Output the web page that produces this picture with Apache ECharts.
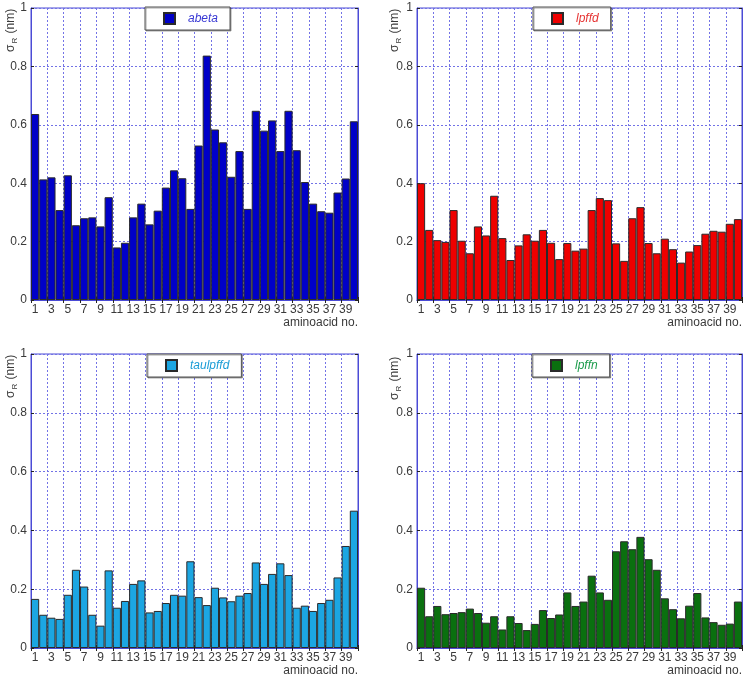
<!DOCTYPE html>
<html>
<head>
<meta charset="utf-8">
<script src="https://cdn.jsdelivr.net/npm/echarts@6/dist/echarts.min.js"></script>
<style>
html,body{margin:0;padding:0;background:#fff;}
#chart{width:745px;height:678px;}
</style>
</head>
<body>
<div id="chart"></div>
<script>
const aminoacids = ['1','2','3','4','5','6','7','8','9','10','11','12','13','14','15','16','17','18','19','20',
  '21','22','23','24','25','26','27','28','29','30','31','32','33','34','35','36','37','38','39','40'];

const abeta = [0.637,0.413,0.420,0.308,0.427,0.256,0.280,0.283,0.252,0.352,
  0.180,0.196,0.283,0.330,0.259,0.306,0.385,0.444,0.417,0.312,
  0.529,0.837,0.584,0.540,0.422,0.510,0.312,0.648,0.580,0.615,
  0.510,0.648,0.513,0.404,0.330,0.304,0.299,0.368,0.416,0.612];

const lpffd = [0.400,0.240,0.205,0.199,0.308,0.203,0.160,0.252,0.221,0.357,
  0.212,0.137,0.187,0.225,0.203,0.240,0.196,0.140,0.195,0.169,
  0.176,0.308,0.349,0.342,0.194,0.134,0.280,0.318,0.195,0.160,
  0.210,0.174,0.128,0.166,0.188,0.227,0.237,0.234,0.261,0.277];

const taulpffd = [0.167,0.113,0.103,0.099,0.181,0.266,0.209,0.113,0.076,0.264,
  0.137,0.160,0.218,0.230,0.121,0.126,0.153,0.181,0.178,0.295,
  0.173,0.146,0.205,0.172,0.159,0.178,0.187,0.291,0.218,0.252,
  0.288,0.248,0.137,0.144,0.126,0.153,0.164,0.240,0.347,0.467];

const lpffn = [0.205,0.108,0.143,0.115,0.119,0.122,0.134,0.119,0.086,0.108,
  0.063,0.108,0.085,0.061,0.082,0.129,0.102,0.114,0.189,0.143,
  0.158,0.246,0.189,0.164,0.329,0.363,0.336,0.378,0.302,0.266,
  0.169,0.132,0.101,0.144,0.187,0.104,0.088,0.079,0.083,0.158];

const FONT = 'Liberation Sans, Arial, sans-serif';
const AXIS_BLUE = '#4b4bd6';
const GRID_BLUE = '#7373e6';

const panels = [
  {name:'abeta', data:abeta, color:'#0000c8', text:'#3838d4',
   grid:{left:31, top:8, width:327, height:292}, legend:{left:145, top:7}, yname:{x:11, y:52}},
  {name:'lpffd', data:lpffd, color:'#ee0000', text:'#e63434',
   grid:{left:417, top:8, width:325, height:292}, legend:{left:533, top:7}, yname:{x:395, y:52}},
  {name:'taulpffd', data:taulpffd, color:'#1ca6e2', text:'#1a9cd6',
   grid:{left:31, top:354, width:327, height:294}, legend:{left:147, top:354}, yname:{x:11, y:398}},
  {name:'lpffn', data:lpffn, color:'#0a700f', text:'#1c9c4c',
   grid:{left:417, top:354, width:325, height:294}, legend:{left:532, top:354}, yname:{x:395, y:400}}
];

const grid = [], xAxis = [], yAxis = [], series = [], legend = [], graphic = [];

panels.forEach((p, i) => {
  grid.push(Object.assign({show:true, borderColor:AXIS_BLUE, borderWidth:1, backgroundColor:'#fff'}, p.grid));
  // bottom x axis
  xAxis.push({
    type:'category', gridIndex:i, data:aminoacids, boundaryGap:true, position:'bottom',
    axisLine:{lineStyle:{color:AXIS_BLUE}},
    axisTick:{show:true, inside:true, length:3, interval:1, lineStyle:{color:'#222'}},
    axisLabel:{interval:1, margin:4, fontSize:12, color:'#3a3a3a', fontFamily:FONT},
    splitLine:{show:true, interval:1, lineStyle:{color:GRID_BLUE, type:[2,2], width:1}},
    name:'aminoacid no.', nameLocation:'end', nameGap:0,
    nameTextStyle:{align:'right', verticalAlign:'top', padding:[17,0,0,0], fontSize:12, color:'#3a3a3a', fontFamily:FONT}
  });
  // top x axis (ticks only)
  xAxis.push({
    type:'category', gridIndex:i, data:aminoacids, boundaryGap:true, position:'top',
    axisLine:{lineStyle:{color:AXIS_BLUE}},
    axisTick:{show:true, inside:true, length:3, interval:1, lineStyle:{color:'#222'}},
    axisLabel:{show:false}, splitLine:{show:false}
  });
  yAxis.push({
    type:'value', gridIndex:i, min:0, max:1, interval:0.2, position:'left',
    axisLine:{show:true, lineStyle:{color:AXIS_BLUE}},
    axisTick:{show:true, inside:true, length:3, lineStyle:{color:'#222'}},
    axisLabel:{margin:4, fontSize:12, color:'#3a3a3a', fontFamily:FONT},
    splitLine:{show:true, lineStyle:{color:GRID_BLUE, type:[2,2], width:1}}
  });
  yAxis.push({
    type:'value', gridIndex:i, min:0, max:1, interval:0.2, position:'right',
    axisLine:{show:true, lineStyle:{color:AXIS_BLUE}},
    axisTick:{show:true, inside:true, length:3, lineStyle:{color:'#222'}},
    axisLabel:{show:false}, splitLine:{show:false}
  });
  series.push({
    type:'bar', name:p.name, data:p.data, xAxisIndex:i*2, yAxisIndex:i*2,
    barCategoryGap:'0%', animation:false,
    itemStyle:{color:p.color, borderColor:'#2a2a2a', borderWidth:1}
  });
  legend.push({
    data:[p.name], left:p.legend.left, top:p.legend.top, orient:'horizontal',
    backgroundColor:'#fff', borderColor:'#505050', borderWidth:1, borderRadius:0,
    padding:[5,12,5,18], itemWidth:11, itemHeight:11, icon:'rect',
    shadowColor:'rgba(0,0,0,0.35)', shadowOffsetX:1, shadowOffsetY:1, shadowBlur:0,
    selectedMode:false,
    textStyle:{fontStyle:'italic', fontSize:12, color:p.text, fontFamily:FONT, padding:[0,0,0,8]},
    z:10
  });
  graphic.push({
    type:'text', x:p.yname.x, y:p.yname.y, rotation:Math.PI/2, z:10,
    style:{
      text:'{s|σ}{r|R}{n| (nm)}',
      fill:'#3a3a3a', font:'12px ' + FONT,
      verticalAlign:'middle', align:'left',
      rich:{
        s:{fontSize:12, fontFamily:FONT, fill:'#3a3a3a', lineHeight:16, verticalAlign:'middle'},
        r:{fontSize:8, fontFamily:FONT, fill:'#3a3a3a', lineHeight:16, verticalAlign:'bottom', padding:[6,1,0,1]},
        n:{fontSize:12, fontFamily:FONT, fill:'#3a3a3a', lineHeight:16, verticalAlign:'middle'}
      }
    }
  });
});

const chart = echarts.init(document.getElementById('chart'), null, {renderer:'canvas'});
chart.setOption({
  animation:false,
  backgroundColor:'#fff',
  textStyle:{fontFamily:FONT},
  grid, xAxis, yAxis, series, legend, graphic
});
</script>
</body>
</html>
